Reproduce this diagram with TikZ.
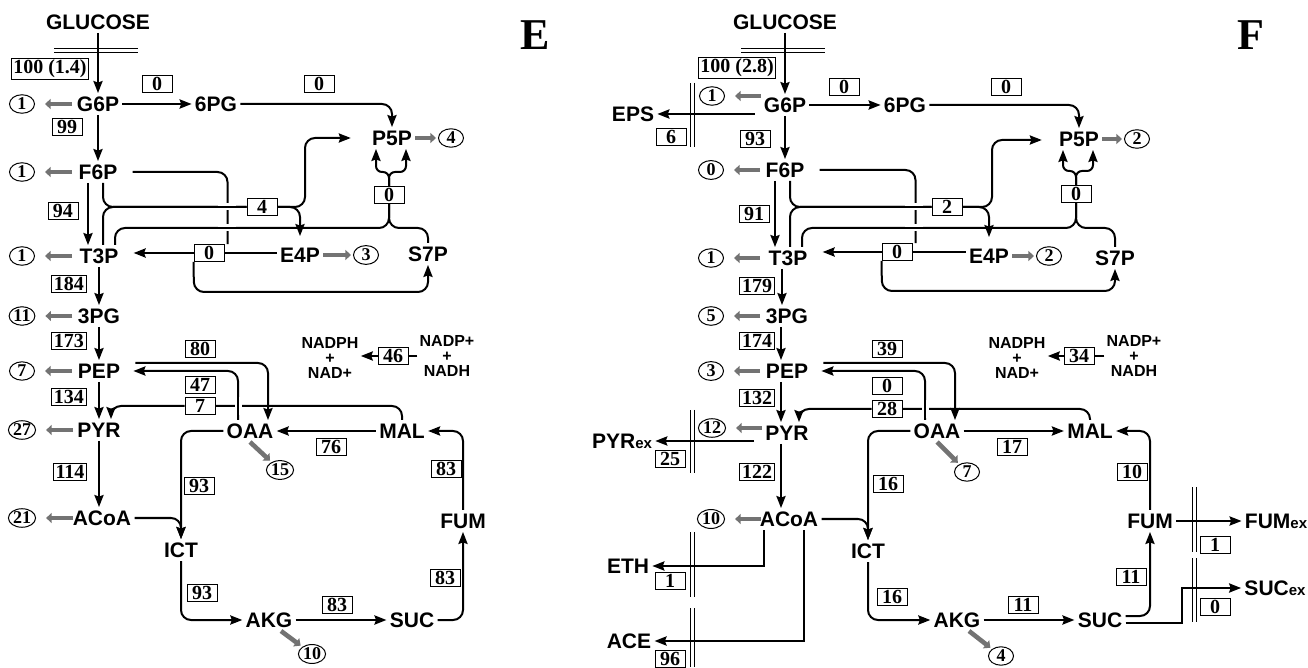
\documentclass[tikz,border=0pt]{standalone}
\usepackage{fontspec}
\usepackage{tikz}
\usetikzlibrary{arrows.meta,shapes.geometric,backgrounds}
\setmainfont{Liberation Serif}
\newfontfamily\sansfam{Liberation Sans}
\newfontfamily\seriffam{Liberation Serif}
\newcommand{\metfont}{\sansfam\bfseries\fontsize{10.5}{12}\selectfont}
\newcommand{\cofont}{\sansfam\bfseries\fontsize{8}{7.6}\selectfont}
\newcommand{\fluxfont}{\seriffam\bfseries\fontsize{10}{11}\selectfont}
\newcommand{\poolfont}{\seriffam\bfseries\fontsize{9}{10}\selectfont}
\newcommand{\panelfont}{\seriffam\bfseries\fontsize{22}{24}\selectfont}
\newcommand{\exsub}{{\fontsize{7.5}{8}\selectfont ex}}
\tikzset{
    % metabolites and cofactors
    met/.style={font=\metfont, inner sep=1.5pt, text height=7.6pt, text depth=0pt},
    cofac/.style={font=\cofont, align=center, inner sep=1pt},
    panel/.style={font=\panelfont, inner sep=0pt},
    % flux values and drain pools
    flux/.style={draw, line width=0.5pt, fill=white, font=\fluxfont, inner xsep=1.1pt, inner ysep=0.8pt,
        minimum width=15pt, text height=6.8pt, text depth=0pt},
    pool/.style={ellipse, draw, line width=0.5pt, font=\poolfont, inner sep=0.3pt, minimum width=12.5pt, minimum height=8.2pt},
    % connectors
    react/.style={line width=1pt, rounded corners=5pt},
    conv/.style={react, -{Stealth[length=6pt,width=4.6pt,inset=0.8pt]}},
    fork/.style={conv, rounded corners=3pt},
    bridge/.style={react, preaction={draw=white, line width=3.5pt}},
    drain/.style={line width=2.3pt, black!55, -{Triangle[length=2.8pt,width=5pt]}, shorten >=1pt},
    memb/.style={double, double distance=1.5pt, line width=0.5pt}
}

\begin{document}
\begin{tikzpicture}[x=0.5pt, y=-0.5pt]
    \useasboundingbox (0,0) rectangle (1308,668);

    % ================= Panel E =================
    \begin{scope}[name prefix=E-]
    % Metabolites
    \node[met] (glc) at (98,22) {GLUCOSE};
    \node[met] (g6p) at (98,104) {G6P};
    \node[met] (pg6) at (216,104) {6PG};
    \node[met] (p5p) at (392,138) {P5P};
    \node[met] (f6p) at (98,172) {F6P};
    \node[met] (t3p) at (99,256) {T3P};
    \node[met] (e4p) at (300,255) {E4P};
    \node[met] (s7p) at (428,254) {S7P};
    \node[met] (pg3) at (99,316) {3PG};
    \node[met] (pep) at (99,371) {PEP};
    \node[met] (pyr) at (99,430) {PYR};
    \node[met] (oaa) at (250,431) {OAA};
    \node[met] (mal) at (402,431) {MAL};
    \node[met] (acoa) at (102,518) {ACoA};
    \node[met] (ict) at (181,550) {ICT};
    \node[met] (akg) at (269,620) {AKG};
    \node[met] (suc) at (412,620) {SUC};
    \node[met] (fum) at (463,521) {FUM};
    \node[cofac] (nadph) at (330,358) {NADPH\\+\\NAD+};
    \node[cofac] (nadp) at (447,356) {NADP+\\+\\NADH};
    \node[panel] (lab) at (535,35) {E};

    % Fluxes sitting on reactions
    \node[flux, text depth=2pt] (upt) at (50,69) {100 (1.4)};
    \node[flux] (tka) at (262,207) {4};
    \node[flux] (tkb) at (389,195) {0};
    \node[flux] (tal) at (209,253) {0};
    \node[flux] (thd) at (393,356) {46};
    \node[flux] (mae) at (200,406) {7};
    % Other fluxes
    \foreach \x/\y/\v [count=\i] in {157/84/0, 319/84/0, 67/127/99, 63/211/94, 69/284/184, 69/341/173,
        69/397/134, 200/349/80, 200/385/47, 70/472/114, 331/447/76, 446/469/83, 445/578/83,
        337/605/83, 199/486/93, 202/593/93}
        \node[flux] (flux\i) at (\x,\y) {\v};

    % Drain pools
    \foreach \m/\v in {g6p/1, f6p/1, t3p/1, pg3/11, pep/7, pyr/27, acoa/21}
        \node[pool] (pool-\m) at (\m -| 22,0) {\v};
    \node[pool] (pool-p5p) at (451,138) {4};
    \node[pool] (pool-e4p) at (366,255) {3};
    \node[pool] (pool-oaa) at (280,470) {15};
    \node[pool] (pool-akg) at (312,654) {10};

    \begin{scope}[on background layer]
    % glycolysis and PP pathway
    \draw[memb] (54,51) -- (138,51);
    \draw[conv] (glc) -- (g6p);
    \draw[conv] (g6p) -- (pg6);
    \draw[conv] (pg6) -| (p5p);
    \draw[conv] (g6p) -- (f6p);
    \draw[conv] ([xshift=-5pt]f6p.south) -- ([xshift=-5pt]f6p.south |- t3p.north);
    \draw[conv] (t3p) -- (pg3);
    \draw[conv] (pg3) -- (pep);
    \draw[conv] (pep) -- (pyr);
    \draw[conv] (pyr) -- (pyr |- acoa.north);
    % transaldolase
    \draw[react, shorten <=6pt] (f6p.east) -| ([xshift=1.5pt]tal.north east);
    \draw[conv, shorten >=6pt] (tal) -- (tal -| t3p.east);
    \draw[react] (tal) -- (tal -| e4p.west);
    \draw[conv] (tal.south west) -- (194,292) -| (s7p);
    % transketolases
    \draw[react] (f6p.south -| 103,0) |- (tka);
    \draw[react] (t3p.north -| 103,0) |- (tka);
    \draw[conv] (tka) -| (305,138) -- ([xshift=-9pt]p5p.west);
    \draw[conv, shorten >=4pt] (tka) -| (e4p);
    \draw[fork] (tkb) -- (389,172) -| ([xshift=-8pt]p5p.south);
    \draw[fork] (tkb) -- (389,172) -| ([xshift=7pt]p5p.south);
    \draw[react] (tkb) |- (115,228) -- (t3p.north -| 115,0);
    \draw[react] (tkb) -- (389,228) -| (s7p);
    % anaplerosis and TCA cycle
    \draw[conv, shorten <=6pt] ([yshift=4pt]pep.east) -| ([xshift=9pt]oaa.north);
    \draw[conv, shorten >=5pt] ([xshift=-6pt]oaa.north) |- (pep.east);
    \draw[react] (mal) |- (mae);
    \draw[conv] (mae) -| ([xshift=6pt]pyr.north);
    \draw[conv] (mal) -- (oaa);
    \draw[conv] (fum) |- (mal);
    \draw[conv] (suc) -| (fum);
    \draw[conv] (akg) -- (suc);
    \draw[conv] (ict) |- (akg);
    \draw[conv] (oaa) -| (ict);
    \draw[conv] (acoa) -| (ict);
    % transhydrogenase
    \draw[conv] (thd) -- (thd -| nadph.east);
    \draw[react] (nadp.west |- thd) -- (thd);
    % crossings
    \draw[bridge] (218,207) -- (236,207);
    \draw[bridge] (218,228) -- (236,228);
    \draw[bridge] ([xshift=-6pt]oaa.north |- 0,397) -- ([xshift=-6pt]oaa.north |- 0,415);
    % drains
    \foreach \m in {g6p, f6p, t3p, pg3, pep, pyr, acoa}
        \draw[drain] (pool-\m.east) ++(37,0) -- ++(-29,0);
    \draw[drain] (p5p) -- (pool-p5p);
    \draw[drain] (e4p) -- (pool-e4p);
    \draw[drain] (oaa.south) -- (pool-oaa);
    \draw[drain] ([xshift=6pt]akg.south) -- (pool-akg);
    \end{scope}
    \end{scope}

    % ================= Panel F =================
    \begin{scope}[shift={(687,0)}, name prefix=F-]
    % Metabolites
    \node[met] (glc) at (98,22) {GLUCOSE};
    \node[met] (g6p) at (98,105) {G6P};
    \node[met] (pg6) at (218,105) {6PG};
    \node[met] (p5p) at (392,139) {P5P};
    \node[met] (f6p) at (98,170) {F6P};
    \node[met] (t3p) at (101,258) {T3P};
    \node[met] (e4p) at (302,256) {E4P};
    \node[met] (s7p) at (428,258) {S7P};
    \node[met] (pg3) at (100,316) {3PG};
    \node[met] (pep) at (100,371) {PEP};
    \node[met] (pyr) at (100,433) {PYR};
    \node[met] (oaa) at (250,431) {OAA};
    \node[met] (mal) at (403,431) {MAL};
    \node[met] (acoa) at (102,519) {ACoA};
    \node[met] (ict) at (181,551) {ICT};
    \node[met] (akg) at (270,620) {AKG};
    \node[met] (suc) at (413,620) {SUC};
    \node[met] (fum) at (463,521) {FUM};
    \node[met] (eps) at (-54,114) {EPS};
    \node[met] (pyrex) at (-65,441) {PYR\exsub};
    \node[met] (eth) at (-59,566) {ETH};
    \node[met] (ace) at (-58,641) {ACE};
    \node[met] (fumex) at (589,521) {FUM\exsub};
    \node[met] (sucex) at (588,588) {SUC\exsub};
    \node[cofac] (nadph) at (330,358) {NADPH\\+\\NAD+};
    \node[cofac] (nadp) at (447,356) {NADP+\\+\\NADH};
    \node[panel] (lab) at (564,35) {F};

    % Fluxes sitting on reactions
    \node[flux, text depth=2pt] (upt) at (50,68) {100 (2.8)};
    \node[flux] (tka) at (260,207) {2};
    \node[flux] (tkb) at (389,194) {0};
    \node[flux] (tal) at (210,252) {0};
    \node[flux] (thd) at (392,356) {34};
    \node[flux] (mae) at (200,409) {28};
    % Other fluxes
    \foreach \x/\y/\v [count=\i] in {157/87/0, 319/87/0, 68/139/93, 67/214/91, 70/286/179, 70/341/174,
        70/398/132, 200/349/39, 200/386/0, 70/472/122, 325/447/17, 445/472/10, 444/577/11,
        336/605/11, 201/484/16, 205/597/16, -16/137/6, -17/459/25, -17/581/1, -17/659/96,
        528/545/1, 528/607/0}
        \node[flux] (flux\i) at (\x,\y) {\v};

    % Drain pools
    \foreach \m/\v in {f6p/0, t3p/1, pg3/5, pep/3, acoa/10}
        \node[pool] (pool-\m) at (\m -| 24,0) {\v};
    \node[pool] (pool-g6p) at (25,96) {1};
    \node[pool] (pool-pyr) at (25,428) {12};
    \node[pool] (pool-p5p) at (450,139) {2};
    \node[pool] (pool-e4p) at (362,256) {2};
    \node[pool] (pool-oaa) at (280,472) {7};
    \node[pool] (pool-akg) at (314,656) {4};

    \begin{scope}[on background layer]
    % membranes
    \draw[memb] (54,51) -- (138,51);
    \draw[memb] (5,83) -- (5,147);
    \draw[memb] (5,410) -- (5,473);
    \draw[memb] (5,532) -- (5,597);
    \draw[memb] (5,608) -- (5,667);
    \draw[memb] (507,487) -- (507,552);
    \draw[memb] (507,558) -- (507,622);
    % glycolysis and PP pathway
    \draw[conv] (glc) -- (g6p);
    \draw[conv] (g6p) -- (pg6);
    \draw[conv] (pg6) -| (p5p);
    \draw[conv] (g6p) -- (f6p);
    \draw[conv] ([xshift=-5pt]f6p.south) -- ([xshift=-5pt]f6p.south |- t3p.north);
    \draw[conv] ([xshift=-3pt]t3p.south) -- ([xshift=-3pt]t3p.south |- pg3.north);
    \draw[conv] ([xshift=-3pt]pg3.south) -- ([xshift=-3pt]pg3.south |- pep.north);
    \draw[conv] ([xshift=-3pt]pep.south) -- ([xshift=-3pt]pep.south |- pyr.north);
    \draw[conv] ([xshift=-3pt]pyr.south) -- ([xshift=-3pt]pyr.south |- acoa.north);
    % excretion
    \draw[conv] ([xshift=-3pt]g6p.west |- eps) -- (eps);
    \draw[conv] ([xshift=-4pt]pyr.west |- pyrex) -- (pyrex);
    \draw[conv, sharp corners] ([xshift=4pt]acoa.south west) |- (eth);
    \draw[conv, sharp corners] ([xshift=-9pt]acoa.south east) |- (ace);
    \draw[conv] (fum) -- (fumex);
    \draw[conv, sharp corners] ([yshift=-1.5pt]suc.east) -| (495,588) -- (sucex);
    % transaldolase
    \draw[react, shorten <=6pt] (f6p.east) -| ([xshift=1.5pt]tal.north east);
    \draw[conv, shorten >=6pt] (tal) -- (tal -| t3p.east);
    \draw[react] (tal) -- (tal -| e4p.west);
    \draw[conv] (tal.south west) -- (195,291) -| (s7p);
    % transketolases
    \draw[react] (f6p.south -| 103,0) |- (tka);
    \draw[react] (t3p.north -| 103,0) |- (tka);
    \draw[conv] (tka) -| (305,140) -- ([xshift=-7pt]p5p.west |- 0,140);
    \draw[conv, shorten >=4pt] (tka) -| (e4p);
    \draw[fork] (tkb) -- (389,171) -| ([xshift=-8pt]p5p.south);
    \draw[fork] (tkb) -- (389,171) -| ([xshift=7pt]p5p.south);
    \draw[react] (tkb) |- (115,228) -- (t3p.north -| 115,0);
    \draw[react] (tkb) -- (389,228) -| (s7p);
    % anaplerosis and TCA cycle
    \draw[conv, shorten <=6pt] ([yshift=4pt]pep.east) -| ([xshift=9pt]oaa.north);
    \draw[conv, shorten >=5pt] ([xshift=-6pt]oaa.north) |- (pep.east);
    \draw[react] (mal) |- (mae);
    \draw[conv] (mae) -| ([xshift=6pt]pyr.north);
    \draw[conv] (oaa) -- (mal);
    \draw[conv] (fum) |- (mal);
    \draw[conv] ([yshift=2pt]suc.east) -| (fum);
    \draw[conv] (akg) -- (suc);
    \draw[conv] (ict) |- (akg);
    \draw[conv] (oaa) -| (ict);
    \draw[conv] (acoa) -| (ict);
    % transhydrogenase
    \draw[conv] (thd) -- (thd -| nadph.east);
    \draw[react] (nadp.west |- thd) -- (thd);
    % crossings
    \draw[bridge] (218,207) -- (236,207);
    \draw[bridge] (218,228) -- (236,228);
    \draw[bridge] ([xshift=-6pt]oaa.north |- 0,400) -- ([xshift=-6pt]oaa.north |- 0,418);
    % drains
    \foreach \m in {g6p, f6p, t3p, pg3, pep, pyr, acoa}
        \draw[drain] (pool-\m.east) ++(36,0) -- ++(-28,0);
    \draw[drain] (p5p) -- (pool-p5p);
    \draw[drain] (e4p) -- (pool-e4p);
    \draw[drain] (oaa.south) -- (pool-oaa);
    \draw[drain] ([xshift=6pt]akg.south) -- (pool-akg);
    \end{scope}
    \end{scope}
\end{tikzpicture}
\end{document}
